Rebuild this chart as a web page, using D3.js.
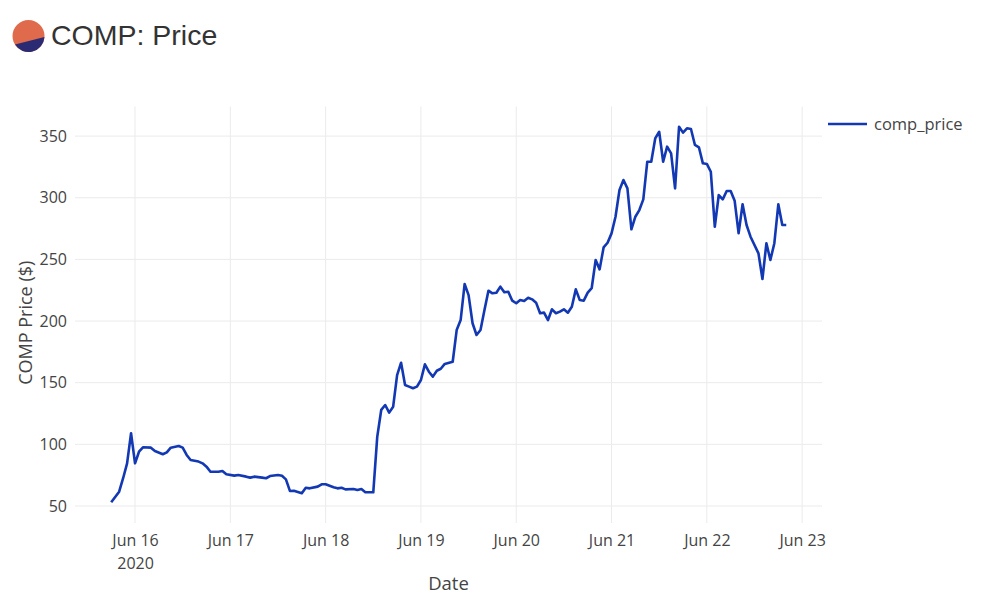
<!DOCTYPE html>
<html>
<head>
<meta charset="utf-8">
<script src="https://cdn.jsdelivr.net/npm/d3@7"></script>
<style>
  html, body { margin: 0; padding: 0; background: #fff; }
  svg { display: block; }
</style>
</head>
<body>
<svg id="chart" width="1000" height="599"></svg>
<script>
// ---- data ----
const times = [
  "2020-06-15T18:00","2020-06-15T20:00","2020-06-15T21:00","2020-06-15T22:00","2020-06-15T23:00",
  "2020-06-16T00:00","2020-06-16T01:00","2020-06-16T02:00","2020-06-16T04:00","2020-06-16T05:00",
  "2020-06-16T07:00","2020-06-16T08:00","2020-06-16T09:00","2020-06-16T11:00","2020-06-16T12:00",
  "2020-06-16T13:00","2020-06-16T14:00","2020-06-16T16:00","2020-06-16T17:00","2020-06-16T18:00",
  "2020-06-16T19:00","2020-06-16T21:00","2020-06-16T22:00","2020-06-16T23:00",
  "2020-06-17T01:00","2020-06-17T02:00","2020-06-17T04:00","2020-06-17T05:00","2020-06-17T06:00",
  "2020-06-17T08:00","2020-06-17T09:00","2020-06-17T10:00","2020-06-17T12:00","2020-06-17T13:00",
  "2020-06-17T14:00","2020-06-17T15:00","2020-06-17T16:00","2020-06-17T18:00","2020-06-17T19:00",
  "2020-06-17T20:00","2020-06-17T22:00","2020-06-17T23:00",
  "2020-06-18T00:00","2020-06-18T02:00","2020-06-18T03:00","2020-06-18T04:00","2020-06-18T05:00",
  "2020-06-18T07:00","2020-06-18T08:00","2020-06-18T09:00","2020-06-18T10:00","2020-06-18T12:00",
  "2020-06-18T13:00","2020-06-18T14:00","2020-06-18T15:00","2020-06-18T16:00","2020-06-18T17:00",
  "2020-06-18T18:00","2020-06-18T19:00","2020-06-18T20:00","2020-06-18T21:00","2020-06-18T22:00",
  "2020-06-18T23:00",
  "2020-06-19T00:00","2020-06-19T01:00","2020-06-19T02:00","2020-06-19T03:00","2020-06-19T04:00",
  "2020-06-19T05:00","2020-06-19T06:00","2020-06-19T08:00","2020-06-19T09:00","2020-06-19T10:00",
  "2020-06-19T11:00","2020-06-19T12:00","2020-06-19T13:00","2020-06-19T14:00","2020-06-19T15:00",
  "2020-06-19T16:00","2020-06-19T17:00","2020-06-19T18:00","2020-06-19T19:00","2020-06-19T20:00",
  "2020-06-19T21:00","2020-06-19T22:00","2020-06-19T23:00",
  "2020-06-20T00:00","2020-06-20T01:00","2020-06-20T02:00","2020-06-20T03:00","2020-06-20T04:00",
  "2020-06-20T05:00","2020-06-20T06:00","2020-06-20T07:00","2020-06-20T08:00","2020-06-20T09:00",
  "2020-06-20T10:00","2020-06-20T11:00","2020-06-20T12:00","2020-06-20T13:00","2020-06-20T14:00",
  "2020-06-20T15:00","2020-06-20T16:00","2020-06-20T17:00","2020-06-20T18:00","2020-06-20T19:00",
  "2020-06-20T20:00","2020-06-20T21:00","2020-06-20T22:00","2020-06-20T23:00",
  "2020-06-21T00:00","2020-06-21T01:00","2020-06-21T02:00","2020-06-21T03:00","2020-06-21T04:00",
  "2020-06-21T05:00","2020-06-21T06:00","2020-06-21T07:00","2020-06-21T08:00","2020-06-21T09:00",
  "2020-06-21T10:00","2020-06-21T11:00","2020-06-21T12:00","2020-06-21T13:00","2020-06-21T14:00",
  "2020-06-21T15:00","2020-06-21T16:00","2020-06-21T17:00","2020-06-21T18:00","2020-06-21T19:00",
  "2020-06-21T20:00","2020-06-21T21:00","2020-06-21T22:00","2020-06-21T23:00",
  "2020-06-22T00:00","2020-06-22T01:00","2020-06-22T02:00","2020-06-22T03:00","2020-06-22T04:00",
  "2020-06-22T05:00","2020-06-22T06:00","2020-06-22T07:00","2020-06-22T08:00","2020-06-22T09:00",
  "2020-06-22T10:00","2020-06-22T11:00","2020-06-22T13:00","2020-06-22T14:00","2020-06-22T15:00",
  "2020-06-22T16:00","2020-06-22T17:00","2020-06-22T18:00","2020-06-22T19:00","2020-06-22T20:00"
];
const prices = [
  53, 61.6, 72.5, 84.6, 109,
  84.6, 94, 97.6, 97.3, 94.6,
  92, 93.5, 97.3, 98.7, 97.3,
  91.4, 87.3, 86, 84.6, 81.9,
  77.8, 77.8, 78.4, 75.7,
  74.6, 75.1, 73.8, 73, 73.8,
  73, 72.5, 74.3, 75.1, 74.5,
  71.6, 62.2, 62.4, 60.3, 64.8,
  64.3, 65.7, 67.6,
  67.6, 65.2, 64.3, 64.8, 63.5,
  63.8, 63, 63.8, 61.1, 61.1,
  106.2, 127.9, 131.9, 125.7, 130.5,
  156.2, 166.2, 148.1, 146.8, 145.5,
  146.8,
  152.2, 164.9, 158.9, 154.9, 159.7,
  161.3, 165.2, 167, 192.7, 200.8,
  230, 221, 198.2, 188.7, 192.7,
  209, 224.6, 222.5, 223, 227.9,
  223.3, 223.8, 216.5,
  214.4, 217, 216.3, 218.9, 217.6,
  214.9, 206.3, 206.8, 200.8, 209.5,
  206.3, 207.6, 209.5, 206.8, 211.6,
  225.7, 217, 216.5, 223, 226.6,
  249.5, 241.9, 259.7, 263.5,
  271.1, 284.6, 306.3, 314.4, 307.6,
  274.4, 284.6, 290, 298.7, 329.2,
  329.2, 348.1, 353.5, 329.2, 341.4,
  336, 307.6, 357.6, 352.8, 356.3,
  355.8, 342.8, 340.9, 327.9,
  327.4, 321.1, 276.5, 302.2, 298.7,
  305.5, 305.5, 297.6, 271.2, 294.7,
  277.9, 268.4, 254.9, 234.1, 263.1,
  249.5, 263.1, 294.7, 277.9, 277.9
];
const seriesName = "comp_price";
const xTickDates = ["2020-06-16","2020-06-17","2020-06-18","2020-06-19","2020-06-20","2020-06-21","2020-06-22","2020-06-23"];
const yTicks = [50, 100, 150, 200, 250, 300, 350];
const xDomain = ["2020-06-15T08:53", "2020-06-23T05:00"];
const yDomain = [36.2, 374];
const titleText = "COMP: Price";
const xTitle = "Date";
const yTitle = "COMP Price ($)";

// ---- drawing ----
const parse = d3.utcParse("%Y-%m-%dT%H:%M");
const parseDay = d3.utcParse("%Y-%m-%d");
const data = times.map((t, i) => ({ t: parse(t), v: prices[i] }));

const svg = d3.select("#chart");
const plot = { left: 75, right: 822, top: 106.5, bottom: 523 };

const x = d3.scaleUtc().domain(xDomain.map(parse)).range([plot.left, plot.right]);
const y = d3.scaleLinear().domain(yDomain).range([plot.bottom, plot.top]);

const tickFont = "'Open Sans', 'DejaVu Sans', sans-serif";
const tickSize = 16;

// gridlines
const grid = svg.append("g");
grid.selectAll("line.v").data(xTickDates.map(parseDay)).enter().append("line")
  .attr("x1", d => x(d)).attr("x2", d => x(d))
  .attr("y1", plot.top).attr("y2", plot.bottom)
  .attr("stroke", "#ebebeb").attr("stroke-width", 1);
grid.selectAll("line.h").data(yTicks).enter().append("line")
  .attr("x1", plot.left).attr("x2", plot.right)
  .attr("y1", d => y(d)).attr("y2", d => y(d))
  .attr("stroke", "#ebebeb").attr("stroke-width", 1);

// x axis
const fmt = d3.utcFormat("%b %-d");
const xAxis = svg.append("g")
  .attr("transform", `translate(0,${plot.bottom})`)
  .call(d3.axisBottom(x).tickValues(xTickDates.map(parseDay)).tickSize(0).tickPadding(0).tickFormat(""));
xAxis.select(".domain").remove();
xAxis.selectAll(".tick").each(function(d, i) {
  const g = d3.select(this);
  g.append("text").attr("y", 22.5).attr("text-anchor", "middle")
    .attr("font-family", tickFont).attr("font-size", tickSize).attr("fill", "#444")
    .text(fmt(d));
  if (i === 0) {
    g.append("text").attr("y", 45.5).attr("text-anchor", "middle")
      .attr("font-family", tickFont).attr("font-size", tickSize).attr("fill", "#444")
      .text(d3.utcFormat("%Y")(d));
  }
});

// y axis
const yAxis = svg.append("g")
  .attr("transform", `translate(${plot.left},0)`)
  .call(d3.axisLeft(y).tickValues(yTicks).tickSize(0).tickPadding(8));
yAxis.select(".domain").remove();
yAxis.selectAll("text")
  .attr("font-family", tickFont).attr("font-size", tickSize).attr("fill", "#444");

// axis titles
svg.append("text")
  .attr("x", (plot.left + plot.right) / 2).attr("y", 590)
  .attr("text-anchor", "middle")
  .attr("font-family", tickFont).attr("font-size", 18.5).attr("fill", "#444")
  .text(xTitle);
svg.append("text")
  .attr("transform", `translate(32,${(plot.top + plot.bottom) / 2 + 8}) rotate(-90)`)
  .attr("text-anchor", "middle")
  .attr("font-family", tickFont).attr("font-size", 18).attr("fill", "#444")
  .text(yTitle);

// line
const lineColor = "#1338b3";
svg.append("path")
  .datum(data)
  .attr("fill", "none")
  .attr("stroke", lineColor)
  .attr("stroke-width", 2.6)
  .attr("stroke-linejoin", "round")
  .attr("d", d3.line().x(d => x(d.t)).y(d => y(d.v)));

// legend
const lg = svg.append("g").attr("transform", "translate(828,124)");
lg.append("line").attr("x1", 0).attr("x2", 39).attr("y1", 0).attr("y2", 0)
  .attr("stroke", lineColor).attr("stroke-width", 2.6);
lg.append("text").attr("x", 46).attr("y", 6)
  .attr("font-family", tickFont).attr("font-size", 16.5).attr("fill", "#444")
  .text(seriesName);

// title with logo
const logo = svg.append("g").attr("transform", "translate(28.5,36)");
const r = 16;
logo.append("circle").attr("r", r).attr("fill", "#e06a4c");
const a1 = Math.PI * 0.82, a2 = Math.PI * 0.02;
const p1 = [r * Math.cos(a1), r * Math.sin(a1)];
const p2 = [r * Math.cos(a2), r * Math.sin(a2)];
logo.append("path")
  .attr("d", `M${p2[0]},${p2[1]} A${r},${r} 0 0,1 ${p1[0]},${p1[1]} Z`)
  .attr("fill", "#2b2b73");
svg.append("text")
  .attr("x", 51).attr("y", 45)
  .attr("font-family", "'Liberation Sans', Arial, sans-serif")
  .attr("font-size", 28.5).attr("fill", "#333")
  .text(titleText);
</script>
</body>
</html>
